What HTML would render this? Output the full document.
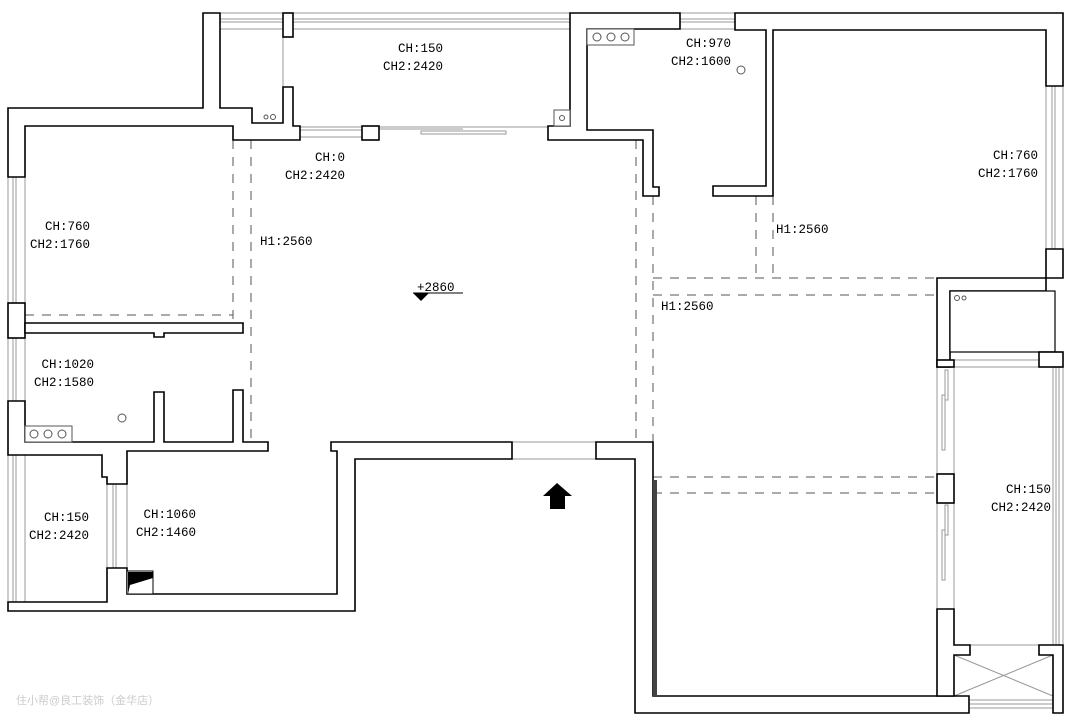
<!DOCTYPE html>
<html><head><meta charset="utf-8"><style>
html,body{margin:0;padding:0;background:#fff;width:1080px;height:727px;overflow:hidden}
svg{display:block}
text{font-family:"Liberation Mono",monospace;font-size:12.5px;fill:#000}
</style></head><body>
<svg width="1080" height="727" viewBox="0 0 1080 727" xmlns="http://www.w3.org/2000/svg">
<g fill="none" stroke="#999" stroke-width="1">
<path d="M220,13H570M220,19H570M220,22H570M220,29H283M293,29H570"/>
<path d="M300,127H548M300,130H362M300,137H362M379,129H463M421,131H506V134H421Z"/>
<path d="M680,13H735M680,19H735M680,22H735M680,29H735"/>
<path d="M8,177V303M13,177V303M16,177V303M25,177V303"/>
<path d="M8,338V401M13,338V401M16,338V401M25,338V401"/>
<path d="M8,455V602M13,455V602M16,455V602M25,455V602"/>
<path d="M107,484V568M113,484V568M116,484V568M127,484V568"/>
<path d="M220,29V108M283,37V87"/>
<path d="M1046,86V249M1052,86V249M1055,86V249M1063,86V249"/>
<path d="M1053,367V645M1056,367V645M1059,367V645M1063,367V645"/>
<path d="M937,367V474M954,367V474M937,503V609M954,503V609"/>
<path d="M954,367H1053M954,360H1039"/>
<path d="M970,700H1053M970,704H1053M970,708H1053M970,645H1039"/>
<path d="M512,442H596M512,459H596"/>
<rect x="942" y="395" width="3" height="55"/><rect x="945" y="370" width="3" height="30"/>
<rect x="942" y="530" width="3" height="50"/><rect x="945" y="505" width="3" height="30"/>
<path d="M954,655L1053,696M954,696L1053,655"/>
</g>
<g fill="none" stroke="#555" stroke-width="1" stroke-dasharray="9,8">
<path d="M233,140V323M251,140V442M25,315H233"/>
<path d="M636,140V442M653,196V442M756,196V278M773,196V278M653,278H937M653,295H937M653,477H937M653,493H937"/>
</g>
<g fill="#fff" stroke="#000" stroke-width="1.6">
<path d="M8,177V108H203V13H220V108H252V123H283V87H293V126H300V140H233V126H25V177Z"/>
<rect x="283" y="13" width="10" height="24"/>
<rect x="362" y="126" width="17" height="14"/>
<rect x="8" y="303" width="17" height="35"/>
<path d="M25,323H243V333H164V337H154V333H25Z"/>
<path d="M8,401H25V442H154V392H164V442H233V390H243V442H268V451H127V484H107V477H102V455H8Z"/>
<path d="M8,602H107V568H127V594H337V451H331V442H512V459H355V611H8Z"/>
<path d="M570,13H680V29H587V130H653V187H659V196H643V140H548V126H570Z"/>
<path d="M735,13H1063V86H1046V30H773V196H713V186H766V30H735Z"/>
<path d="M1046,249H1063V278H1046Z"/>
<path d="M937,278H1046V291H950V367H937Z"/>
<rect x="950" y="291" width="105" height="61" stroke-width="1.2"/>
<rect x="1039" y="352" width="24" height="15"/>
<rect x="937" y="360" width="17" height="7"/>
<rect x="937" y="474" width="17" height="29"/>
<path d="M596,442H653V696H969V713H635V459H596Z"/>
<path d="M937,609H954V645H970V655H954V696H937Z"/>
<path d="M1039,645H1063V713H1053V655H1039Z"/>
</g>
<rect x="653" y="480" width="4" height="216" fill="#444"/>
<g fill="#fff" stroke="#555" stroke-width="1">
<rect x="554" y="110" width="16" height="16"/><circle cx="562" cy="118" r="2.5"/>
<rect x="587" y="29" width="47" height="16"/>
<circle cx="597" cy="37" r="4"/><circle cx="611" cy="37" r="4"/><circle cx="625" cy="37" r="4"/>
<circle cx="741" cy="70" r="4"/>
<rect x="25" y="426" width="47" height="16"/>
<circle cx="34" cy="434" r="4"/><circle cx="48" cy="434" r="4"/><circle cx="62" cy="434" r="4"/>
<circle cx="122" cy="418" r="4"/>
<circle cx="266" cy="117" r="2"/><circle cx="273" cy="117" r="2.5"/>
<circle cx="957" cy="298" r="2.5"/><circle cx="964" cy="298" r="2"/>
<rect x="127" y="571" width="26" height="23" stroke="#000"/>
</g>
<path d="M128,572L153,572L153,578L130,585L128,594Z" fill="#000"/>
<path d="M413,293H463" stroke="#000" stroke-width="1"/>
<path d="M413,293H429L421,301Z" fill="#000"/>
<path d="M557,483L572,496H565V509H550V496H543Z" fill="#000"/>
<g text-anchor="end">
<text x="443" y="52">CH:150</text><text x="443" y="70">CH2:2420</text>
<text x="345" y="161">CH:0</text><text x="345" y="179">CH2:2420</text>
<text x="90" y="230">CH:760</text><text x="90" y="248">CH2:1760</text>
<text x="94" y="368">CH:1020</text><text x="94" y="386">CH2:1580</text>
<text x="89" y="521">CH:150</text><text x="89" y="539">CH2:2420</text>
<text x="196" y="518">CH:1060</text><text x="196" y="536">CH2:1460</text>
<text x="731" y="47">CH:970</text><text x="731" y="65">CH2:1600</text>
<text x="1038" y="159">CH:760</text><text x="1038" y="177">CH2:1760</text>
<text x="1051" y="493">CH:150</text><text x="1051" y="511">CH2:2420</text>
</g>
<text x="260" y="245">H1:2560</text>
<text x="776" y="233">H1:2560</text>
<text x="661" y="310">H1:2560</text>
<text x="417" y="291">+2860</text>
<text x="16" y="704" style="font-family:'Liberation Sans','Noto Sans CJK SC',sans-serif;font-size:11px;fill:#ccc">住小帮@良工装饰（金华店）</text>
</svg>
</body></html>
